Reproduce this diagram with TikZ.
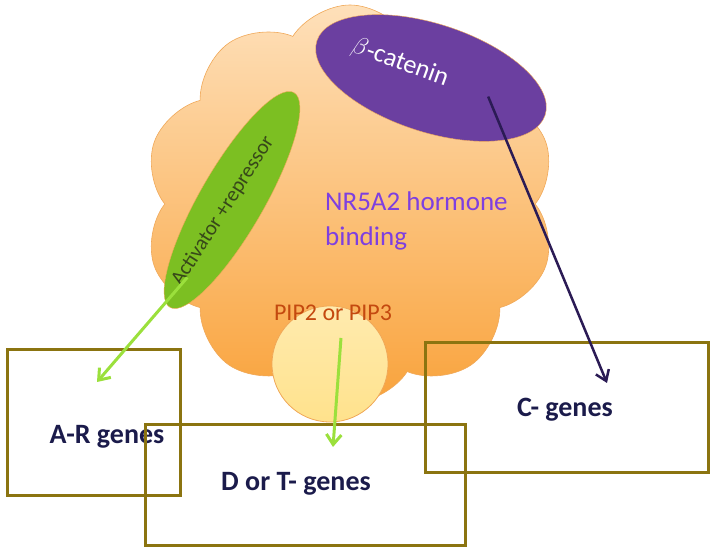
\documentclass[tikz,border=0pt]{standalone}
\usepackage{fontspec}
\setmainfont{Carlito}
\usepackage{xcolor}
\definecolor{cellhi}{RGB}{254,224,186}
\definecolor{celllo}{RGB}{249,163,60}
\definecolor{celledge}{RGB}{240,168,88}
\definecolor{betapurple}{RGB}{107,63,160}
\definecolor{actgreen}{RGB}{124,191,34}
\definecolor{acttext}{RGB}{55,72,25}
\definecolor{pipfill}{RGB}{255,226,140}
\definecolor{piptext}{RGB}{196,73,15}
\definecolor{nrpurple}{RGB}{126,63,224}
\definecolor{boxolive}{RGB}{139,116,16}
\definecolor{genenavy}{RGB}{27,27,75}
\definecolor{arrowgreen}{RGB}{155,224,60}
\definecolor{arrownavy}{RGB}{43,27,85}
\usetikzlibrary{arrows.meta, positioning, shapes.geometric, shapes.symbols, calc}

\begin{document}
\begin{tikzpicture}[x=1pt, y=1pt,
  genebox/.style={draw=boxolive, line width=3pt, inner sep=0pt},
  genetext/.style={font=\fontsize{28}{32}\selectfont\bfseries, text=genenavy},
  greenarrow/.style={-{Straight Barb[length=10pt, width=15pt]}, line width=3pt, arrowgreen},
  navyarrow/.style={-{Straight Barb[length=10pt, width=14pt]}, line width=2.5pt, arrownavy}]
  \useasboundingbox (0,0) rectangle (713,556);

  % Cell body (cloud)
  \node[cloud, cloud puffs=10, cloud puff arc=115, minimum width=412, minimum height=398,
        top color=cellhi, bottom color=celllo, draw=celledge, line width=0.6pt] (cell) at (350,352) {};

  % beta-catenin
  \node[ellipse, rotate=-18, minimum width=240, minimum height=108, fill=betapurple, draw=celledge] (beta) at (431,478) {};
  \node[rotate=-20, text=white, font=\fontsize{26}{30}\selectfont] (betalabel) at (400,493) {$\beta$-catenin};

  % Activator + repressor
  \node[ellipse, rotate=60, minimum width=248, minimum height=64, fill=actgreen, draw=celledge] (act) at (232,356) {};
  \node[rotate=57.5, text=acttext, font=\fontsize{21}{24}\selectfont] (actlabel) at (223,345) {Activator +repressor};

  % PIP2 / PIP3
  \node[circle, minimum size=116, top color=pipfill!70!white, bottom color=pipfill, draw=celledge,
        line width=0.8pt] (pip) at (330,192) {};
  \node[text=piptext, font=\fontsize{24}{28}\selectfont] (piplabel) at (333,243) {PIP2 or PIP3};

  % hormone binding label
  \node[anchor=north west, align=left, text=nrpurple, font=\fontsize{27}{35}\selectfont, inner sep=0pt]
        (nrlabel) at (325,364) {NR5A2 hormone\\binding};

  % Gene boxes
  \node[genebox, minimum width=173, minimum height=146] (arbox) at (93.5,133) {};
  \node[genetext] (artext) at (107,119) {A-R genes};
  \node[genebox, minimum width=320, minimum height=121] (dtbox) at (305,70.5) {};
  \node[genetext] (dttext) at (296,72) {D or T- genes};
  \node[genebox, minimum width=283, minimum height=130] (cbox) at (566.5,148) {};
  \node[genetext] (ctext) at (565,146) {C- genes};

  % Arrow ends inside the boxes
  \coordinate (arin) at (97,174);
  \coordinate (dtin) at (333,109);
  \coordinate (cin) at (607,173);

  % Connectors
  \draw[greenarrow] ($(act.center)!0.72!(act.west)$) -- (arin);
  \draw[greenarrow] ($(pip.center)+(11,26)$) -- (dtin);
  \draw[navyarrow] ($(beta.center)!0.5!(beta.east)$) -- (cin);
\end{tikzpicture}
\end{document}
